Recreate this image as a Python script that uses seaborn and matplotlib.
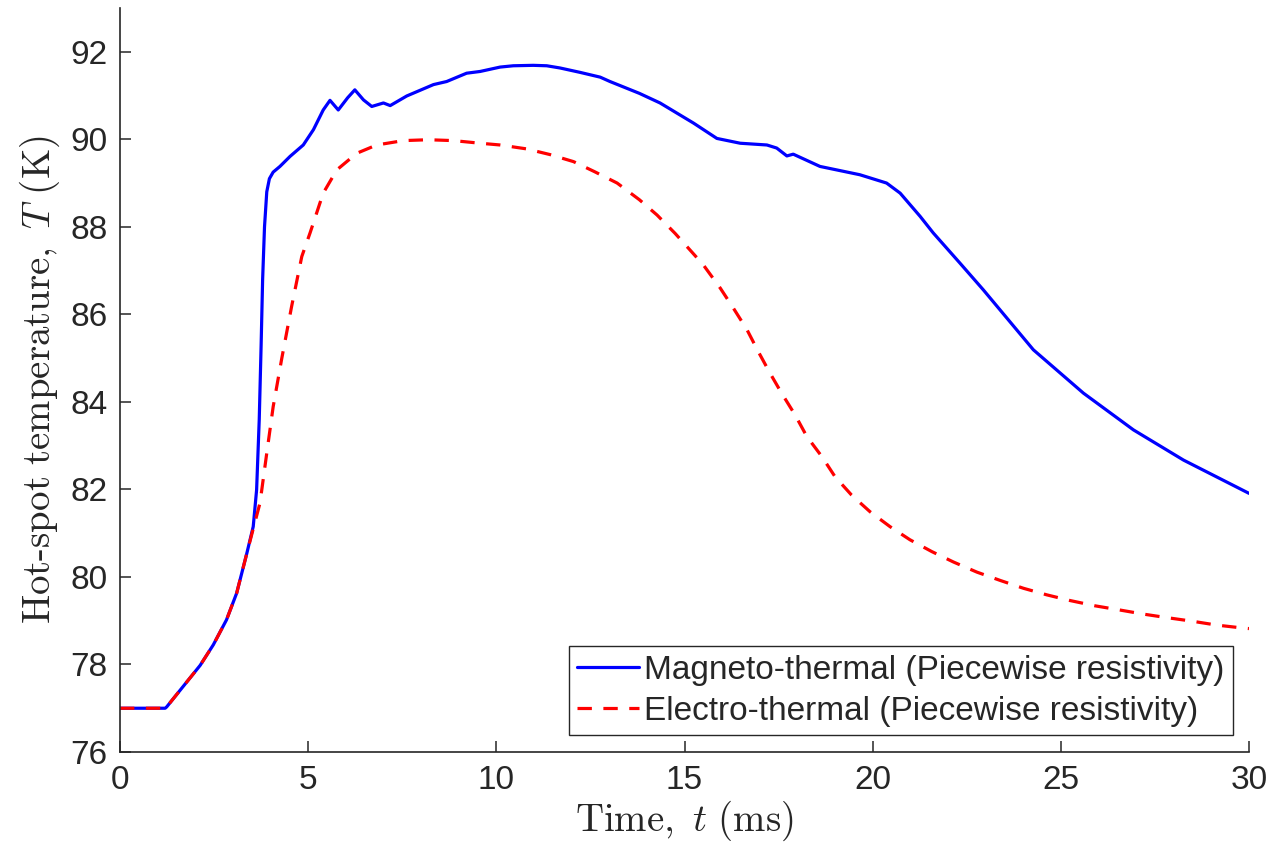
import matplotlib
matplotlib.use("Agg")
import matplotlib.pyplot as plt
import seaborn as sns
import numpy as np
import pandas as pd

# ---- data ----
t_mt = [0.0, 1.2, 1.24, 2.13, 2.48, 2.83, 3.10, 3.37, 3.54, 3.63, 3.70, 3.75, 3.79,
        3.84, 3.90, 3.97, 4.07, 4.25, 4.52, 4.87, 5.14, 5.40, 5.58, 5.80, 6.05, 6.24,
        6.47, 6.69, 7.00, 7.18, 7.62, 8.33, 8.68, 9.21, 9.57, 10.10, 10.45, 10.98,
        11.34, 11.69, 12.22, 12.76, 13.02, 13.80, 14.35, 15.24, 15.86, 16.48, 17.19,
        17.45, 17.72, 17.89, 18.60, 19.66, 20.37, 20.73, 21.26, 21.61, 22.32, 22.94,
        24.27, 25.60, 26.93, 28.26, 30.0]
T_mt = [77.0, 77.0, 77.03, 77.98, 78.45, 79.02, 79.63, 80.54, 81.15, 81.99, 83.6, 85.3,
        86.8, 88.0, 88.8, 89.1, 89.25, 89.38, 89.61, 89.87, 90.22, 90.67, 90.89, 90.67,
        90.95, 91.13, 90.90, 90.75, 90.83, 90.77, 90.99, 91.25, 91.32, 91.51, 91.55,
        91.65, 91.68, 91.69, 91.68, 91.63, 91.53, 91.42, 91.32, 91.05, 90.83, 90.37,
        90.02, 89.91, 89.87, 89.80, 89.62, 89.66, 89.38, 89.19, 89.00, 88.77, 88.24,
        87.86, 87.17, 86.56, 85.19, 84.20, 83.36, 82.67, 81.91]

t_et = [0.0, 1.2, 1.24, 2.13, 2.48, 2.83, 3.10, 3.37, 3.54, 3.72, 3.90, 4.07, 4.30,
        4.56, 4.83, 5.05, 5.40, 5.76, 6.29, 6.82, 7.53, 8.19, 8.86, 9.57, 10.10,
        10.81, 11.43, 12.05, 12.61, 13.21, 13.80, 14.27, 14.75, 15.22, 15.50, 15.95,
        16.30, 16.66, 16.96, 17.27, 17.58, 17.94, 18.25, 18.65, 19.00, 19.44, 19.93,
        20.46, 20.99, 21.57, 22.15, 22.77, 23.39, 24.01, 24.63, 25.25, 25.91, 26.53,
        27.20, 27.82, 28.48, 29.14, 29.76, 30.0]
T_et = [77.0, 77.0, 77.03, 77.98, 78.45, 79.02, 79.63, 80.54, 81.10, 81.69, 82.83,
        83.89, 85.00, 86.18, 87.32, 87.86, 88.77, 89.30, 89.68, 89.87, 89.97, 89.99,
        89.97, 89.91, 89.87, 89.78, 89.65, 89.49, 89.26, 89.00, 88.62, 88.27, 87.85,
        87.40, 87.13, 86.60, 86.14, 85.65, 85.15, 84.66, 84.20, 83.70, 83.21, 82.75,
        82.29, 81.87, 81.49, 81.15, 80.85, 80.58, 80.34, 80.11, 79.92, 79.74, 79.59,
        79.46, 79.34, 79.25, 79.15, 79.07, 78.99, 78.90, 78.84, 78.82]

label_mt = "Magneto-thermal (Piecewise resistivity)"
label_et = "Electro-thermal (Piecewise resistivity)"
x_ticks = [0, 5, 10, 15, 20, 25, 30]
y_ticks = [76, 78, 80, 82, 84, 86, 88, 90, 92]

# ---- style ----
sns.set_theme(style="ticks")
plt.rcParams["font.family"] = ["Liberation Sans", "DejaVu Sans"]
plt.rcParams["mathtext.fontset"] = "cm"
axis_col = "#262626"

fig = plt.figure(figsize=(12.76, 8.55), dpi=100)
ax = fig.add_axes([120 / 1276, 1 - 752 / 855, (1249 - 120) / 1276, (752 - 8) / 855])

df_mt = pd.DataFrame({"t": t_mt, "T": T_mt})
df_et = pd.DataFrame({"t": t_et, "T": T_et})

sns.lineplot(data=df_mt, x="t", y="T", ax=ax, color="#0000ff", lw=2.3,
             estimator=None, sort=False, label=label_mt)
sns.lineplot(data=df_et, x="t", y="T", ax=ax, color="#ff0000", lw=2.3,
             estimator=None, sort=False, label=label_et)
ax.lines[1].set_dashes((4.5, 3.6))

ax.set_xlim(0, 30)
ax.set_ylim(76, 93)
ax.set_xticks(x_ticks)
ax.set_yticks(y_ticks)
ax.set_xticklabels([str(v) for v in x_ticks])
ax.set_yticklabels([str(v) for v in y_ticks])

for s in ["top", "right"]:
    ax.spines[s].set_visible(False)
for s in ["left", "bottom"]:
    ax.spines[s].set_color(axis_col)
    ax.spines[s].set_linewidth(1.2)
ax.tick_params(direction="in", length=8, width=1.1, colors=axis_col,
               labelsize=24, labelcolor=axis_col, pad=9)

ax.set_xlabel(r"$\mathrm{Time,}\ t\ \mathrm{(ms)}$", fontsize=28, color=axis_col, labelpad=2)
ax.set_ylabel(r"$\mathrm{Hot\text{-}spot\ temperature,}\ T\ \mathrm{(K)}$", fontsize=28,
              color=axis_col, labelpad=6)

leg = ax.legend(loc="lower right", bbox_to_anchor=(0.9855, 0.023), borderaxespad=0,
                fontsize=24, frameon=True, fancybox=False, handlelength=1.85,
                handletextpad=0.15, labelspacing=0.3, borderpad=0.25)
leg.get_frame().set_edgecolor(axis_col)
leg.get_frame().set_linewidth(1.0)
leg.get_frame().set_alpha(1)

fig.savefig("out.png", dpi=100)
